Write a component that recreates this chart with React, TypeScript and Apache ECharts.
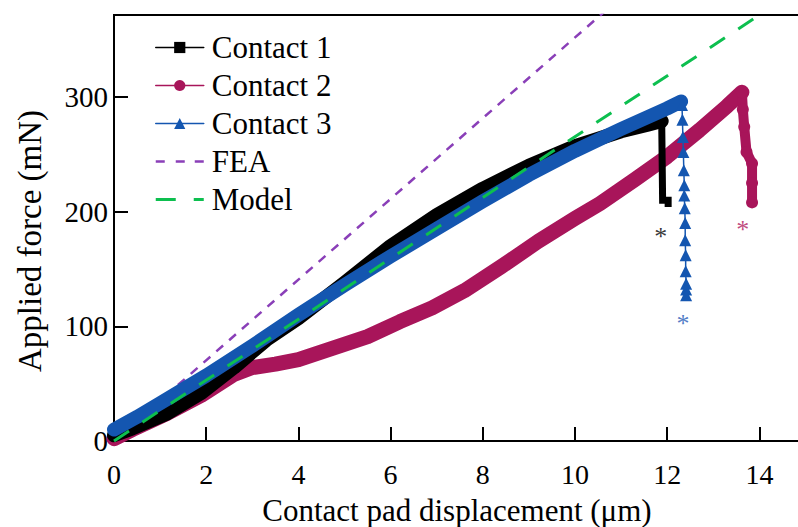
import React, { useEffect, useRef } from "react";
import * as echarts from "echarts";

// ---- data (x: µm, y: mN) ----
const contact1Main: number[][] = [
  [0, 5], [0.4, 11], [1.15, 24], [1.9, 42], [2.6, 64], [3.3, 88], [4.0, 107],
  [5.0, 138], [6.0, 170], [7.0, 197], [8.0, 220], [9.0, 240], [10.0, 257],
  [11.0, 270], [11.6, 276], [11.88, 279],
];
const contact1Drop: number[][] = [
  [11.88, 279], [11.9, 210], [12.02, 210], [12.02, 204],
];
const contact2Main: number[][] = [
  [0, 2], [0.4, 10], [1.15, 24], [1.9, 40], [2.6, 58], [3.0, 64], [3.5, 67],
  [4.0, 71], [4.75, 81], [5.5, 91], [6.2, 104], [6.9, 116], [7.6, 131],
  [8.4, 152], [9.2, 174], [10.0, 194], [10.54, 207], [11.3, 228], [12.0, 248],
  [12.7, 271], [13.3, 292], [13.62, 304],
];
const contact2Drop: number[][] = [
  [13.62, 304], [13.64, 289], [13.67, 274], [13.72, 252], [13.84, 242],
  [13.84, 225], [13.84, 208],
];
const contact3Main: number[][] = [
  [0, 10], [0.5, 21], [1.0, 33], [2.0, 57], [3.0, 83], [4.0, 110], [5.0, 136],
  [6.0, 161], [7.0, 185], [8.0, 209], [9.0, 232], [10.0, 253], [11.0, 272],
  [12.0, 290], [12.3, 296],
];
const contact3Drop: number[][] = [
  [12.32, 293], [12.33, 280], [12.34, 265], [12.35, 252], [12.36, 236],
  [12.37, 223], [12.37, 214], [12.38, 203], [12.39, 190], [12.39, 175],
  [12.4, 162], [12.4, 148], [12.41, 137], [12.41, 132], [12.41, 127],
];
const feaLine: number[][] = [[0, 0], [11, 387]];
const modelLine: number[][] = [[0, 0], [15, 398]];
const failureMarks: number[][] = [[11.86, 183], [13.64, 189], [12.34, 107]];
const failureColors = ["#000000", "#B0185E", "#1F5BB8"];

const xTickInterval = 2;
const yTickInterval = 100;
const xMax = 14.88;
const yMax = 371.4;

const BLACK = "#000000";
const CRIMSON = "#A8155A";
const BLUE = "#1456B0";
const PURPLE = "#8A3FB8";
const GREEN = "#0DBF4F";
const FONT = "Liberation Serif";

const FEA_ICON = "path://M0,0h9v2.5h-9z M20,0h9v2.5h-9z M39,0h9v2.5h-9z";
const MODEL_ICON = "path://M0,0h20v3h-20z M38,0h10v3h-10z";

export default function App() {
  const ref = useRef<HTMLDivElement>(null);
  useEffect(() => {
    if (!ref.current) return;
    const chart = echarts.init(ref.current, null, { renderer: "svg" });
    chart.setOption({
      animation: false,
      backgroundColor: "#ffffff",
      grid: {
        left: 114, right: -2, top: 15, bottom: 86,
        outerBoundsMode: "none",
        show: true, borderColor: BLACK, borderWidth: 2,
      },
      legend: {
        orient: "vertical",
        left: 150,
        top: 27,
        itemWidth: 48,
        itemHeight: 14,
        itemGap: 7,
        textStyle: { fontFamily: FONT, fontSize: 31, color: BLACK, padding: [0, 0, 0, 3] },
        data: [
          { name: "Contact 1", lineStyle: { width: 1.5 } },
          { name: "Contact 2", lineStyle: { width: 1.5 } },
          { name: "Contact 3", lineStyle: { width: 1.5 } },
          { name: "FEA", icon: FEA_ICON, itemStyle: { color: PURPLE } },
          { name: "Model", icon: MODEL_ICON, itemStyle: { color: GREEN } },
        ],
      },
      xAxis: {
        type: "value", min: 0, max: xMax, interval: xTickInterval,
        name: "Contact pad displacement (μm)",
        nameLocation: "middle", nameGap: 54, nameMoveOverlap: false,
        nameTextStyle: { fontFamily: FONT, fontSize: 31, color: BLACK },
        axisLine: { lineStyle: { color: BLACK, width: 2 } },
        axisTick: { inside: true, length: 14, lineStyle: { color: BLACK, width: 2 } },
        axisLabel: { fontFamily: FONT, fontSize: 28, color: BLACK, margin: 19, showMaxLabel: false },
        splitLine: { show: false },
      },
      yAxis: {
        type: "value", min: 0, max: yMax, interval: yTickInterval,
        name: "Applied force (mN)",
        nameLocation: "middle", nameGap: 68, nameMoveOverlap: false,
        nameTextStyle: { fontFamily: FONT, fontSize: 33, color: BLACK, padding: [0, 26, 0, 0] },
        axisLine: { lineStyle: { color: BLACK, width: 2 } },
        axisTick: { inside: true, length: 14, lineStyle: { color: BLACK, width: 2 } },
        axisLabel: { fontFamily: FONT, fontSize: 29, color: BLACK, margin: 6, showMaxLabel: false },
        splitLine: { show: false },
      },
      series: [
        {
          name: "FEA", type: "line", data: feaLine, symbol: "none", clip: true,
          lineStyle: { color: PURPLE, width: 2.5, type: [9, 8] }, itemStyle: { color: PURPLE }, z: 1,
        },
        {
          name: "Contact 2", type: "line", data: contact2Main, symbol: "circle", showSymbol: false,
          lineStyle: { color: CRIMSON, width: 15, cap: "round", join: "round" },
          itemStyle: { color: CRIMSON }, z: 2,
        },
        {
          name: "Contact 2 drop", type: "line", data: contact2Drop, symbol: "circle", symbolSize: 12,
          lineStyle: { color: CRIMSON, width: 10, cap: "round", join: "round" },
          itemStyle: { color: CRIMSON }, z: 2,
        },
        {
          name: "Contact 1", type: "line", data: contact1Main, symbol: "rect", symbolSize: [8, 12], showSymbol: false,
          lineStyle: { color: BLACK, width: 14, cap: "round", join: "round" },
          itemStyle: { color: BLACK }, z: 3,
        },
        {
          name: "Contact 1 drop", type: "line", data: contact1Drop, symbol: "none",
          lineStyle: { color: BLACK, width: 7, join: "miter" }, itemStyle: { color: BLACK }, z: 3,
        },
        {
          name: "Contact 3", type: "line", data: contact3Main, symbol: "triangle", showSymbol: false,
          lineStyle: { color: BLUE, width: 14, cap: "round", join: "round" },
          itemStyle: { color: BLUE }, z: 4,
        },
        {
          name: "Contact 3 drop", type: "line", data: contact3Drop, symbol: "triangle", symbolSize: 12,
          lineStyle: { color: BLUE, width: 1.5 }, itemStyle: { color: BLUE }, z: 4,
        },
        {
          name: "Model", type: "line", data: modelLine, symbol: "none", clip: true,
          lineStyle: { color: GREEN, width: 3, type: [18, 16] }, itemStyle: { color: GREEN }, z: 5,
        },
        {
          name: "failure", type: "scatter", symbolSize: 0, z: 6,
          data: failureMarks.map((p, i) => ({
            value: p,
            label: {
              show: true, formatter: "*", position: "inside", fontFamily: FONT,
              fontSize: 26, color: failureColors[i], offset: [0, 5],
            },
          })),
        },
      ],
    });
    return () => chart.dispose();
  }, []);
  return <div ref={ref} style={{ width: 798, height: 527, position: "absolute", left: 0, top: 0 }} />;
}
